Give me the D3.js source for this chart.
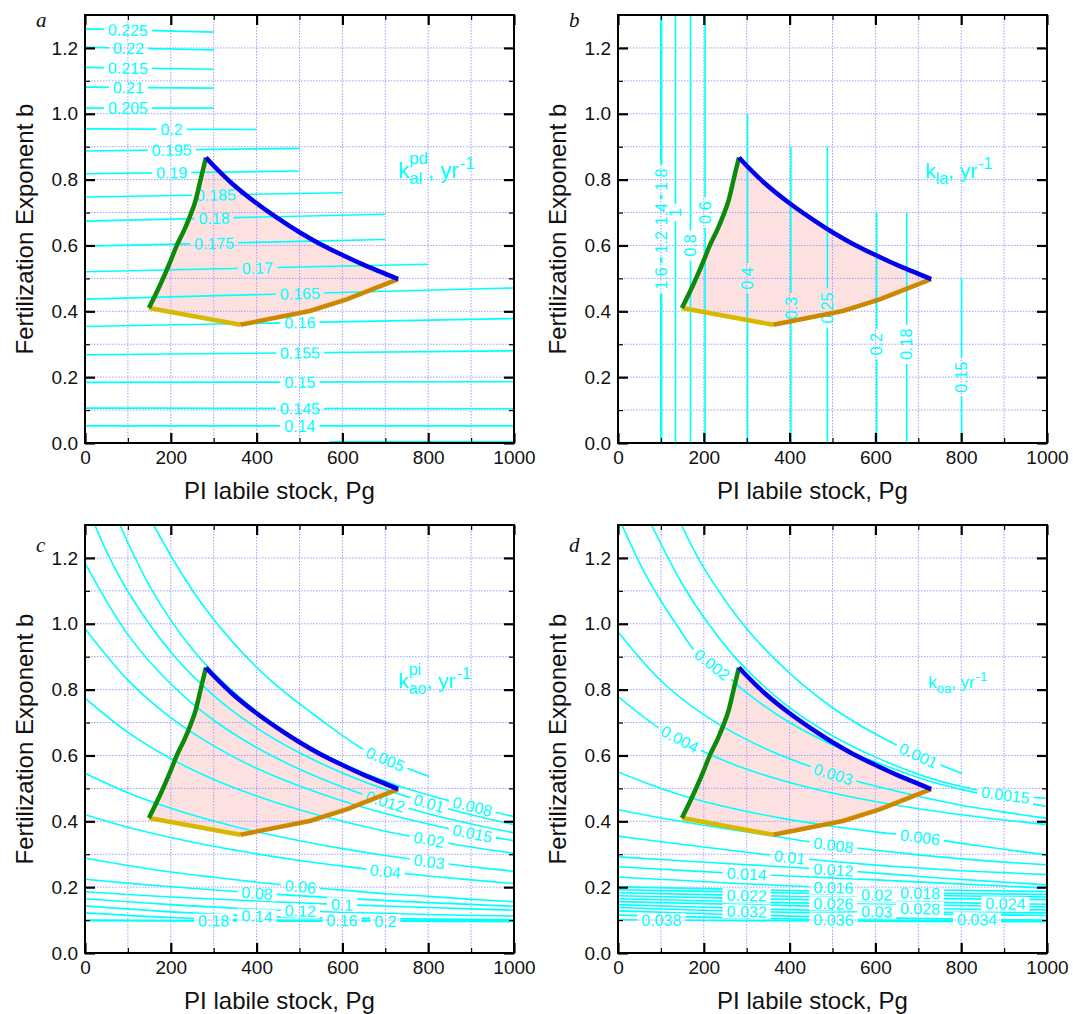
<!DOCTYPE html>
<html>
<head>
<meta charset="utf-8">
<script src="https://cdn.jsdelivr.net/npm/d3@7"></script>
<style>
  body { margin: 0; background: #fff; }
  svg { font-family: "Liberation Sans", Arial, sans-serif; }
</style>
</head>
<body>
<div id="chart"></div>
<script>
/* global d3 */

// Axis ticks
const xTicks = [0, 200, 400, 600, 800, 1000];
const xMinor = [100, 300, 500, 700, 900];
const yTicks = [0, 0.2, 0.4, 0.6, 0.8, 1.0, 1.2];
const yMinor = [0.1, 0.3, 0.5, 0.7, 0.9, 1.1];

// Edges of the admissible region (PI labile stock, exponent b)
const edgeGreen = [[149, 0.41], [175, 0.48], [200, 0.555], [214, 0.6], [233, 0.652], [245, 0.69], [257, 0.733], [272, 0.814], [282, 0.867]];
const edgeBlue = [[282, 0.867], [300, 0.842], [342, 0.789], [400, 0.728], [450, 0.682], [500, 0.64], [550, 0.603], [600, 0.571], [650, 0.541], [730, 0.498]];
const edgeOrange = [[362, 0.359], [524, 0.401], [610, 0.436], [730, 0.498]];
const edgeYellow = [[149, 0.41], [362, 0.359]];

// Panel a: k_al^pd contours
const contoursA = [
  { v: "0.225", pts: [[0, 1.258], [300, 1.248]], at: 100 },
  { v: "0.22", pts: [[0, 1.202], [300, 1.194]], at: 101 },
  { v: "0.215", pts: [[0, 1.141], [300, 1.135]], at: 100 },
  { v: "0.21", pts: [[0, 1.081], [300, 1.078]], at: 101 },
  { v: "0.205", pts: [[0, 1.017], [300, 1.017]], at: 100 },
  { v: "0.2", pts: [[0, 0.954], [400, 0.952]], at: 202 },
  { v: "0.195", pts: [[0, 0.887], [500, 0.895]], at: 202 },
  { v: "0.19", pts: [[0, 0.818], [500, 0.826]], at: 202 },
  { v: "0.185", pts: [[0, 0.747], [600, 0.760]], at: 305 },
  { v: "0.18", pts: [[0, 0.674], [700, 0.695]], at: 301 },
  { v: "0.175", pts: [[0, 0.598], [700, 0.618]], at: 301 },
  { v: "0.17", pts: [[0, 0.520], [800, 0.543]], at: 402 },
  { v: "0.165", pts: [[0, 0.437], [1000, 0.471]], at: 501 },
  { v: "0.16", pts: [[0, 0.354], [1000, 0.378]], at: 501 },
  { v: "0.155", pts: [[0, 0.268], [1000, 0.280]], at: 501 },
  { v: "0.15", pts: [[0, 0.184], [1000, 0.186]], at: 501 },
  { v: "0.145", pts: [[0, 0.106], [1000, 0.104]], at: 501 },
  { v: "0.14", pts: [[0, 0.052], [1000, 0.052]], at: 501 },
  { v: "0.135", pts: [[570, 0.004], [1000, 0.004]], at: null }
];

// Panel b: k_la contours (vertical), label position given as b
const contoursB = [
  { v: "1.8", pts: [[100, 0], [100, 1.3]], at: 0.80 },
  { v: "1.4", pts: [[100.5, 0], [100.5, 1.3]], at: 0.695 },
  { v: "1.2", pts: [[101, 0], [101, 1.3]], at: 0.61 },
  { v: "1.6", pts: [[101.5, 0], [101.5, 1.3]], at: 0.50 },
  { v: "1", pts: [[134, 0], [134, 1.3]], at: 0.70 },
  { v: "0.8", pts: [[169, 0], [169, 1.3]], at: 0.60 },
  { v: "0.6", pts: [[203, 0], [203, 1.3]], at: 0.70 },
  { v: "0.4", pts: [[302, 0], [302, 1.0]], at: 0.50 },
  { v: "0.3", pts: [[403, 0], [403, 0.9]], at: 0.41 },
  { v: "0.25", pts: [[488, 0], [488, 0.9]], at: 0.41 },
  { v: "0.2", pts: [[603, 0], [603, 0.7]], at: 0.30 },
  { v: "0.18", pts: [[673, 0], [673, 0.7]], at: 0.30 },
  { v: "0.15", pts: [[801, 0], [801, 0.5]], at: 0.20 }
];

// Panel c: k_ao^pi contours
const contoursC = [
  { v: "0.005", pts: [[160, 1.30], [218, 1.168], [280, 1.047], [350, 0.936], [436, 0.824], [545, 0.713], [658, 0.612], [751, 0.561], [802, 0.536]], at: 700 },
  { v: "0.008", pts: [[82, 1.30], [100, 1.246], [150, 1.116], [200, 1.011], [250, 0.923], [300, 0.85], [400, 0.734], [500, 0.645], [600, 0.576], [700, 0.522], [800, 0.48], [900, 0.446], [1000, 0.414]], at: 903 },
  { v: "0.01", pts: [[23, 1.30], [50, 1.22], [100, 1.098], [200, 0.914], [300, 0.782], [400, 0.684], [500, 0.608], [600, 0.547], [700, 0.497], [800, 0.455], [900, 0.42], [1000, 0.39]], at: 802 },
  { v: "0.012", pts: [[0, 1.184], [100, 0.967], [200, 0.817], [300, 0.707], [400, 0.624], [500, 0.558], [600, 0.504], [700, 0.46], [800, 0.423], [900, 0.392], [1000, 0.365]], at: 700 },
  { v: "0.015", pts: [[0, 0.986], [100, 0.829], [200, 0.715], [300, 0.629], [400, 0.561], [500, 0.507], [600, 0.462], [700, 0.424], [800, 0.392], [900, 0.364], [1000, 0.341]], at: 903 },
  { v: "0.02", pts: [[0, 0.774], [100, 0.67], [200, 0.59], [300, 0.527], [400, 0.477], [500, 0.435], [600, 0.4], [700, 0.37], [800, 0.345], [900, 0.322], [1000, 0.303]], at: 802 },
  { v: "0.03", pts: [[0, 0.546], [100, 0.487], [200, 0.44], [300, 0.401], [400, 0.368], [500, 0.341], [600, 0.317], [700, 0.296], [800, 0.278], [900, 0.262], [1000, 0.248]], at: 802 },
  { v: "0.04", pts: [[0, 0.42], [100, 0.382], [200, 0.351], [300, 0.324], [400, 0.301], [500, 0.281], [600, 0.264], [700, 0.248], [800, 0.234], [900, 0.222], [1000, 0.211]], at: 700 },
  { v: "0.06", pts: [[0, 0.288], [100, 0.266], [200, 0.246], [300, 0.23], [400, 0.215], [500, 0.202], [600, 0.191], [700, 0.18], [800, 0.172], [900, 0.163], [1000, 0.156]], at: 502 },
  { v: "0.08", pts: [[0, 0.224], [200, 0.201], [400, 0.182], [600, 0.166], [800, 0.153], [1000, 0.142]], at: 401 },
  { v: "0.1", pts: [[0, 0.186], [200, 0.17], [400, 0.158], [600, 0.147], [800, 0.138], [1000, 0.13]], at: 599 },
  { v: "0.12", pts: [[0, 0.165], [200, 0.147], [400, 0.133], [600, 0.124], [800, 0.117], [1000, 0.112]], at: 502 },
  { v: "0.14", pts: [[0, 0.143], [200, 0.125], [400, 0.112], [600, 0.106], [800, 0.103], [1000, 0.101]], at: 401 },
  { v: "0.16", pts: [[0, 0.122], [200, 0.108], [400, 0.101], [600, 0.099], [800, 0.098], [1000, 0.098]], at: 599 },
  { v: "0.18", pts: [[0, 0.1], [300, 0.098], [600, 0.097], [1000, 0.096]], at: 300 },
  { v: "0.2", pts: [[0, 0.098], [500, 0.097], [1000, 0.096]], at: 700 }
];

// Panel d: k_oa contours
const contoursD = [
  { v: "0.001", pts: [[148, 1.30], [200, 1.17], [300, 0.985], [400, 0.85], [500, 0.745], [600, 0.665], [700, 0.6], [802, 0.545]], at: 700 },
  { v: "0.0015", pts: [[78, 1.30], [150, 1.12], [200, 1.02], [282, 0.885], [400, 0.745], [500, 0.66], [600, 0.595], [730, 0.53], [837, 0.495], [903, 0.48], [1000, 0.47]], at: 903 },
  { v: "0.002", pts: [[9, 1.30], [60, 1.16], [100, 1.07], [140, 0.99], [179, 0.918], [219, 0.876], [261, 0.834], [300, 0.79], [400, 0.70], [500, 0.632], [600, 0.58], [730, 0.52], [800, 0.497], [900, 0.468], [1000, 0.445]], at: 219 },
  { v: "0.003", pts: [[0, 0.976], [100, 0.827], [200, 0.724], [300, 0.648], [400, 0.59], [500, 0.544], [600, 0.507], [700, 0.476], [800, 0.449], [900, 0.428], [1000, 0.409]], at: 502 },
  { v: "0.004", pts: [[0, 0.779], [100, 0.68], [200, 0.611], [300, 0.558], [400, 0.518], [500, 0.486], [600, 0.46], [700, 0.438], [800, 0.42], [900, 0.404], [1000, 0.39]], at: 144 },
  { v: "0.006", pts: [[0, 0.55], [100, 0.5], [200, 0.46], [300, 0.43], [400, 0.405], [500, 0.385], [600, 0.368], [704, 0.352], [800, 0.333], [900, 0.315], [1000, 0.298]], at: 704 },
  { v: "0.008", pts: [[0, 0.435], [100, 0.41], [200, 0.388], [300, 0.368], [400, 0.347], [500, 0.328], [600, 0.312], [700, 0.298], [800, 0.286], [900, 0.276], [1000, 0.268]], at: 502 },
  { v: "0.01", pts: [[0, 0.355], [100, 0.338], [200, 0.322], [300, 0.306], [400, 0.291], [500, 0.278], [600, 0.267], [700, 0.258], [800, 0.25], [900, 0.244], [1000, 0.238]], at: 400 },
  { v: "0.012", pts: [[0, 0.292], [250, 0.272], [500, 0.253], [750, 0.228], [1000, 0.207]], at: 502 },
  { v: "0.014", pts: [[0, 0.262], [300, 0.24], [600, 0.222], [1000, 0.197]], at: 300 },
  { v: "0.016", pts: [[0, 0.231], [500, 0.199], [1000, 0.187]], at: 502 },
  { v: "0.018", pts: [[0, 0.201], [400, 0.19], [704, 0.182], [1000, 0.178]], at: 704 },
  { v: "0.02", pts: [[0, 0.192], [300, 0.185], [603, 0.177], [1000, 0.17]], at: 603 },
  { v: "0.022", pts: [[0, 0.183], [300, 0.175], [600, 0.168], [1000, 0.162]], at: 300 },
  { v: "0.024", pts: [[0, 0.174], [500, 0.16], [903, 0.15], [1000, 0.148]], at: 903 },
  { v: "0.026", pts: [[0, 0.165], [502, 0.15], [1000, 0.14]], at: 502 },
  { v: "0.028", pts: [[0, 0.156], [400, 0.144], [704, 0.135], [1000, 0.131]], at: 704 },
  { v: "0.03", pts: [[0, 0.147], [300, 0.135], [603, 0.126], [1000, 0.122]], at: 603 },
  { v: "0.032", pts: [[0, 0.138], [300, 0.126], [600, 0.12], [1000, 0.114]], at: 300 },
  { v: "0.034", pts: [[0, 0.128], [400, 0.112], [837, 0.102], [1000, 0.1]], at: 837 },
  { v: "0.036", pts: [[0, 0.115], [502, 0.101], [1000, 0.097]], at: 502 },
  { v: "0.038", pts: [[0, 0.101], [500, 0.097], [1000, 0.095]], at: 101 }
];

const width = 1073;
const height = 1014;
const plotW = 429;
const plotH = 428;
const cyan = "#00ffff";

const panels = [
  { key: "a", left: 85, top: 15, letterY: 27, contours: contoursA, vertical: false, unit: { at: [730, 0.805], size: 22, sub: "al", sup: "pd" } },
  { key: "b", left: 618, top: 15, letterY: 27, contours: contoursB, vertical: true, unit: { at: [716, 0.805], size: 21, sub: "la", sup: null } },
  { key: "c", left: 85, top: 525, letterY: 552, contours: contoursC, vertical: false, unit: { at: [730, 0.805], size: 21, sub: "ao", sup: "pi" } },
  { key: "d", left: 618, top: 525, letterY: 552, contours: contoursD, vertical: false, unit: { at: [723, 0.805], size: 17, sub: "oa", sup: null } }
];

const svg = d3.select("#chart")
    .append("svg")
    .attr("width", width)
    .attr("height", height);

const x = d3.scaleLinear().domain([0, 1000]).range([0, plotW]);
const y = d3.scaleLinear().domain([0, 1.3]).range([plotH, 0]);

const lineLin = d3.line().x(d => x(d[0])).y(d => y(d[1]));
const lineSmooth = d3.line().x(d => x(d[0])).y(d => y(d[1])).curve(d3.curveCatmullRom.alpha(0.5));

// point on a polyline where coordinate `key` equals val
function interp(pts, key, val) {
    for (let i = 0; i < pts.length - 1; i++) {
        const a = pts[i], b = pts[i + 1];
        const lo = Math.min(a[key], b[key]), hi = Math.max(a[key], b[key]);
        if (val >= lo && val <= hi && hi > lo) {
            const t = (val - a[key]) / (b[key] - a[key]);
            return [a[0] + t * (b[0] - a[0]), a[1] + t * (b[1] - a[1])];
        }
    }
    return null;
}

function labelSpot(c, vertical) {
    if (vertical) {
        const p = interp(c.pts, 1, c.at);
        return { px: x(p[0]), py: y(p[1]), angle: -90 };
    }
    const p = interp(c.pts, 0, c.at);
    const pa = interp(c.pts, 0, c.at - 14) || p;
    const pb = interp(c.pts, 0, c.at + 14) || p;
    const angle = Math.atan2(y(pb[1]) - y(pa[1]), x(pb[0]) - x(pa[0])) * 180 / Math.PI;
    return { px: x(p[0]), py: y(p[1]), angle: angle };
}

function drawUnit(g, u) {
    const x0 = x(u.at[0]), y0 = y(u.at[1]);
    const small = Math.round(u.size * 0.75);
    const t = g.append("g").attr("fill", cyan).attr("font-size", u.size);
    const k = t.append("text").attr("x", x0).attr("y", y0).text("k");
    const kw = k.node().getComputedTextLength();
    const sub = t.append("text").attr("x", x0 + kw).attr("y", y0 + u.size * 0.28)
        .attr("font-size", small).text(u.sub);
    let w = sub.node().getComputedTextLength();
    if (u.sup) {
        const sup = t.append("text").attr("x", x0 + kw).attr("y", y0 - u.size * 0.62)
            .attr("font-size", small).text(u.sup);
        w = Math.max(w, sup.node().getComputedTextLength());
    }
    const x1 = x0 + kw + w;
    const yr = t.append("text").attr("x", x1).attr("y", y0).text(", yr");
    const yw = yr.node().getComputedTextLength();
    t.append("text").attr("x", x1 + yw + 1).attr("y", y0 - u.size * 0.42)
        .attr("font-size", small).text("-1");
}

function drawPanel(p) {
    const g = svg.append("g").attr("transform", `translate(${p.left},${p.top})`);
    const id = "panel-" + p.key;
    const defs = g.append("defs");

    defs.append("clipPath").attr("id", id + "-clip")
        .append("rect").attr("width", plotW).attr("height", plotH);

    const mask = defs.append("mask").attr("id", id + "-mask")
        .attr("maskUnits", "userSpaceOnUse")
        .attr("x", -10).attr("y", -10).attr("width", plotW + 20).attr("height", plotH + 20);
    mask.append("rect")
        .attr("x", -10).attr("y", -10).attr("width", plotW + 20).attr("height", plotH + 20)
        .attr("fill", "white");

    // shaded region
    const outline = edgeGreen
        .concat(edgeBlue.slice(1))
        .concat(edgeOrange.slice().reverse().slice(1))
        .concat(edgeYellow.slice().reverse().slice(1));
    g.append("path")
        .datum(outline)
        .attr("d", lineLin)
        .attr("fill", "#fde1e1")
        .attr("stroke", "none");

    // dotted grid
    g.append("g").selectAll("line")
        .data(d3.range(100, 1000, 100))
        .join("line")
        .attr("x1", d => x(d)).attr("x2", d => x(d))
        .attr("y1", 0).attr("y2", plotH)
        .attr("stroke", "#9d9dff").attr("stroke-width", 1).attr("stroke-dasharray", "1.5,1.5");
    g.append("g").selectAll("line")
        .data(d3.range(1, 13).map(i => i / 10))
        .join("line")
        .attr("x1", 0).attr("x2", plotW)
        .attr("y1", d => y(d)).attr("y2", d => y(d))
        .attr("stroke", "#9d9dff").attr("stroke-width", 1).attr("stroke-dasharray", "1.5,1.5");

    // contour lines, broken where labels sit
    g.append("g").attr("clip-path", `url(#${id}-clip)`)
        .append("g").attr("mask", `url(#${id}-mask)`)
        .selectAll("path")
        .data(p.contours)
        .join("path")
        .attr("d", d => lineSmooth(d.pts))
        .attr("fill", "none")
        .attr("stroke", cyan)
        .attr("stroke-width", 1.6);

    const labels = g.append("g").attr("font-size", 16).attr("fill", cyan);
    p.contours.filter(c => c.at != null).forEach(c => {
        const s = labelSpot(c, p.vertical);
        const tr = `translate(${s.px},${s.py}) rotate(${s.angle})`;
        const t = labels.append("text")
            .attr("transform", tr)
            .attr("text-anchor", "middle")
            .attr("dy", "0.36em")
            .text(c.v);
        const w = t.node().getComputedTextLength();
        mask.append("rect")
            .attr("transform", tr)
            .attr("x", -w / 2 - 4).attr("y", -7)
            .attr("width", w + 8).attr("height", 14)
            .attr("fill", "black");
    });

    // region edges
    const edge = (pts, color, gen) => g.append("path")
        .datum(pts)
        .attr("d", gen)
        .attr("fill", "none")
        .attr("stroke", color)
        .attr("stroke-width", 4.5)
        .attr("stroke-linejoin", "round");
    edge(edgeYellow, "#d8b800", lineLin);
    edge(edgeOrange, "#cc8800", lineLin);
    edge(edgeGreen, "#0c8a0c", lineSmooth);
    edge(edgeBlue, "#0000ee", lineSmooth);

    drawUnit(g, p.unit);

    // axes, ticks pointing inward on all four sides
    const styleAxis = sel => {
        sel.select(".domain").remove();
        sel.selectAll(".tick line").attr("stroke", "#000");
        sel.attr("font-size", 19).attr("font-family", "Liberation Sans, Arial, sans-serif");
        sel.selectAll(".tick text").attr("fill", "#111");
    };
    const minorW = 1.2, majorW = 2.2;

    g.append("g").attr("transform", `translate(0,${plotH})`)
        .call(d3.axisBottom(x).tickValues(xMinor).tickSize(-5).tickFormat(""))
        .call(styleAxis).selectAll(".tick line").attr("stroke-width", minorW);
    g.append("g").attr("transform", `translate(0,${plotH})`)
        .call(d3.axisBottom(x).tickValues(xTicks).tickSize(-10).tickPadding(8).tickFormat(d3.format("d")))
        .call(styleAxis).selectAll(".tick line").attr("stroke-width", majorW);
    g.append("g")
        .call(d3.axisTop(x).tickValues(xMinor).tickSize(-5).tickFormat(""))
        .call(styleAxis).selectAll(".tick line").attr("stroke-width", minorW);
    g.append("g")
        .call(d3.axisTop(x).tickValues(xTicks).tickSize(-10).tickFormat(""))
        .call(styleAxis).selectAll(".tick line").attr("stroke-width", majorW);

    g.append("g")
        .call(d3.axisLeft(y).tickValues(yMinor).tickSize(-5).tickFormat(""))
        .call(styleAxis).selectAll(".tick line").attr("stroke-width", minorW);
    g.append("g")
        .call(d3.axisLeft(y).tickValues(yTicks).tickSize(-10).tickPadding(7).tickFormat(d3.format(".1f")))
        .call(styleAxis).selectAll(".tick line").attr("stroke-width", majorW);
    g.append("g").attr("transform", `translate(${plotW},0)`)
        .call(d3.axisRight(y).tickValues(yMinor).tickSize(-5).tickFormat(""))
        .call(styleAxis).selectAll(".tick line").attr("stroke-width", minorW);
    g.append("g").attr("transform", `translate(${plotW},0)`)
        .call(d3.axisRight(y).tickValues(yTicks).tickSize(-10).tickFormat(""))
        .call(styleAxis).selectAll(".tick line").attr("stroke-width", majorW);

    // frame
    g.append("rect")
        .attr("width", plotW).attr("height", plotH)
        .attr("fill", "none").attr("stroke", "#000").attr("stroke-width", 2);

    // axis titles
    g.append("text")
        .attr("x", plotW / 2 - 20)
        .attr("y", plotH + 56)
        .attr("text-anchor", "middle")
        .attr("font-size", 24)
        .attr("fill", "#111")
        .text("PI labile stock, Pg");
    g.append("text")
        .attr("transform", `translate(-52,${plotH / 2}) rotate(-90)`)
        .attr("text-anchor", "middle")
        .attr("font-size", 24)
        .attr("fill", "#111")
        .text("Fertilization Exponent b");

    // panel letter
    svg.append("text")
        .attr("x", p.left - 49)
        .attr("y", p.letterY)
        .attr("font-family", "Liberation Serif, Times New Roman, serif")
        .attr("font-style", "italic")
        .attr("font-size", 21)
        .attr("fill", "#111")
        .text(p.key);
}

panels.forEach(drawPanel);
</script>
</body>
</html>
